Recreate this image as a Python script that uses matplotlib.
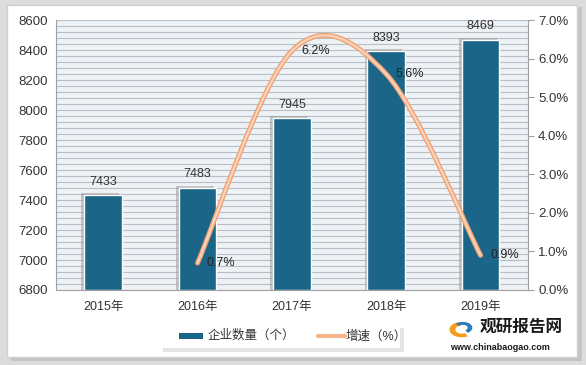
import numpy as np
import matplotlib.pyplot as plt
from matplotlib.path import Path
from matplotlib.patches import PathPatch, Rectangle, Wedge
import matplotlib.patheffects as pe

plt.rcParams['font.family'] = ['Liberation Sans', 'Noto Sans CJK SC']

years = ["2015年", "2016年", "2017年", "2018年", "2019年"]
counts = [7433, 7483, 7945, 8393, 8469]
growth_years = [1, 2, 3, 4]
growth = [0.7, 6.2, 5.6, 0.9]
growth_labels = ["0.7%", "6.2%", "5.6%", "0.9%"]

bar_color = "#1B6688"
line_color = "#F6B48C"

fig = plt.figure(figsize=(5.86, 3.65), dpi=100)
fig.patch.set_facecolor("#DCDCDC")
# white card with soft shadow
fig.add_artist(Rectangle((0.018, 0.012), 0.975, 0.97, transform=fig.transFigure,
                         facecolor="#C4C4C4", edgecolor="none", zorder=0))
fig.add_artist(Rectangle((0.012, 0.022), 0.972, 0.965, transform=fig.transFigure,
                         facecolor="white", edgecolor="#D0D0D0", lw=1, zorder=0))

ax = fig.add_axes([0.0956, 0.2055, 0.805, 0.7395])
ax.set_facecolor("#EDF2F7")
x = np.arange(len(years))

# bar shadows
ax.bar(x - 0.03, np.array(counts) - 6800 + 12, bottom=6800, width=0.4,
       color="#9A9A9A", alpha=0.55, zorder=2, linewidth=0)
ax.bar(x, np.array(counts) - 6800, bottom=6800, width=0.4, color=bar_color,
       edgecolor="white", linewidth=1, zorder=3)
for xi, c in zip(x, counts):
    ax.text(xi, c + 50, str(c), ha="center", va="bottom", fontsize=9, color="#333333", zorder=6)

ax.set_ylim(6800, 8600)
ax.set_xlim(-0.5, 4.5)
ax.set_yticks(np.arange(6800, 8601, 200))
ax.set_yticks(np.arange(6800, 8601, 40), minor=True)
ax.tick_params(axis="y", which="both", length=0, labelsize=9.5, colors="#333333", pad=6)
ax.set_xticks(x)
ax.set_xticklabels(years, fontsize=9, color="#333333")
ax.tick_params(axis="x", length=0, pad=8)
ax.grid(axis="y", which="both", color="#B8BEC4", linewidth=0.8, zorder=1)
ax.set_axisbelow(True)
for s in ["top", "right"]:
    ax.spines[s].set_visible(False)
ax.spines["left"].set_color("#A0A0A0")
ax.spines["bottom"].set_color("#A0A0A0")

ax2 = ax.twinx()
ax2.set_ylim(0, 7)
ax2.set_yticks(np.arange(0, 7.01, 1))
ax2.set_yticklabels([f"{v:.1f}%" for v in np.arange(0, 7.01, 1)])
ax2.tick_params(axis="y", length=4, colors="#A0A0A0", labelcolor="#333333",
                labelsize=9.5, width=0.8)
for s in ["top", "left", "bottom"]:
    ax2.spines[s].set_visible(False)
ax2.spines["right"].set_color("#A0A0A0")

# smoothed line (Catmull-Rom style bezier through the data points)
px = np.array(growth_years, dtype=float)
py = np.array(growth, dtype=float)
verts = [(px[0], py[0])]
codes = [Path.MOVETO]
t = 1 / 6
for i in range(len(px) - 1):
    p0 = (px[i - 1], py[i - 1]) if i > 0 else (px[i], py[i])
    p3 = (px[i + 2], py[i + 2]) if i + 2 < len(px) else (px[i + 1], py[i + 1])
    c1 = (px[i] + (px[i + 1] - p0[0]) * t, py[i] + (py[i + 1] - p0[1]) * t)
    c2 = (px[i + 1] - (p3[0] - px[i]) * t, py[i + 1] - (p3[1] - py[i]) * t)
    verts += [c1, c2, (px[i + 1], py[i + 1])]
    codes += [Path.CURVE4] * 3
path = Path(verts, codes)
ax2.add_patch(PathPatch(path, facecolor="none", edgecolor="#FAD3BA", lw=1.6,
                        capstyle="round", zorder=4,
                        path_effects=[pe.Stroke(linewidth=3.6, foreground="#F0A273",
                                                capstyle="round"), pe.Normal()]))

for xi, yi, lab in zip(growth_years, growth, growth_labels):
    ax2.text(xi + 0.1, yi, lab, ha="left", va="center", fontsize=9, color="#222222", zorder=6)

# legend box with shadow
fig.add_artist(Rectangle((0.279, 0.036), 0.41, 0.066, transform=fig.transFigure,
                         facecolor="#E4E4E4", edgecolor="none", zorder=1))
fig.add_artist(Rectangle((0.273, 0.046), 0.41, 0.066, transform=fig.transFigure,
                         facecolor="white", edgecolor="none", zorder=2))
fig.add_artist(Rectangle((0.306, 0.07), 0.041, 0.019, transform=fig.transFigure,
                         facecolor=bar_color, edgecolor="none", zorder=3))
fig.text(0.354, 0.079, "企业数量（个）", fontsize=9, va="center", color="#333333", zorder=3)
fig.add_artist(plt.Line2D([0.543, 0.588], [0.079, 0.079], transform=fig.transFigure,
                          color=line_color, lw=3, solid_capstyle="round", zorder=3))
fig.text(0.59, 0.079, "增速（%）", fontsize=9, va="center", color="#333333", zorder=3)

# logo
fig.add_artist(Wedge((0.788, 0.097), 0.021, 100, 300, width=0.01, transform=fig.transFigure,
                     facecolor="#F39C1F", edgecolor="none", zorder=3))
fig.add_artist(Wedge((0.79, 0.102), 0.016, -60, 140, width=0.008, transform=fig.transFigure,
                     facecolor="#2B7BC0", edgecolor="none", zorder=3))
fig.text(0.818, 0.103, "观研报告网", fontsize=12, fontweight="bold", va="center",
         color="#1A1A1A", zorder=3)
fig.text(0.768, 0.047, "www.chinabaogao.com", fontsize=6.5, fontweight="bold", va="center",
         color="#1A1A1A", zorder=3)

fig.savefig("out.png", dpi=100, facecolor=fig.get_facecolor())
